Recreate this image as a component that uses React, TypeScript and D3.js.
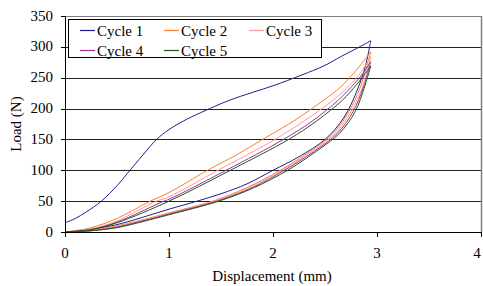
import React from "react";
import * as d3 from "d3";

const W = 483;
const H = 286;

const xTicks = [0, 1, 2, 3, 4];
const yTicks = [0, 50, 100, 150, 200, 250, 300, 350];

const cycleNames = ["Cycle 1", "Cycle 2", "Cycle 3", "Cycle 4", "Cycle 5"];
const cycleColors = ["#1f1f8f", "#ff7f2a", "#ff9a9a", "#993399", "#1d5a1d"];

const cycle1Upper: [number, number][] = [
  [0, 15], [0.1, 22], [0.2, 32], [0.35, 50], [0.5, 75], [0.6, 95], [0.75, 125],
  [0.88, 150], [1.0, 166], [1.14, 180], [1.3, 193], [1.59, 214], [2.0, 237],
  [2.27, 254], [2.5, 270], [2.65, 284], [2.8, 297], [2.94, 310],
];
const cycle1Lower: [number, number][] = [
  [0, 0], [0.25, 4], [0.5, 12], [0.75, 24], [1, 37], [1.27, 50], [1.5, 62],
  [1.75, 78], [2.0, 100], [2.25, 122], [2.5, 150], [2.68, 185], [2.81, 230],
  [2.89, 270], [2.94, 310],
];
const cycle2Upper: [number, number][] = [
  [0, 0], [0.25, 7], [0.5, 22], [0.82, 50], [1, 64], [1.37, 100], [1.65, 125],
  [1.9, 150], [2.2, 180], [2.49, 214], [2.65, 235], [2.8, 262], [2.94, 292],
];
const cycle2Lower: [number, number][] = [
  [0, 0], [0.25, 3], [0.5, 10], [0.75, 20], [1, 31], [1.42, 50], [1.75, 72],
  [2.07, 100], [2.35, 130], [2.58, 160], [2.73, 195], [2.84, 235], [2.94, 292],
];
const cycle3Upper: [number, number][] = [
  [0, 0], [0.25, 5], [0.5, 18], [0.88, 50], [1, 57], [1.47, 100], [2.02, 150],
  [2.3, 180], [2.58, 214], [2.75, 240], [2.85, 260], [2.94, 284],
];
const cycle3Lower: [number, number][] = [
  [0, 0], [0.25, 2.5], [0.5, 9], [0.75, 19], [1, 30], [1.44, 50], [1.77, 72],
  [2.09, 100], [2.37, 130], [2.6, 160], [2.75, 195], [2.86, 235], [2.94, 284],
];
const cycle4Upper: [number, number][] = [
  [0, 0], [0.25, 4], [0.5, 16], [0.95, 50], [1, 53], [1.55, 100], [2.1, 150],
  [2.38, 180], [2.63, 214], [2.78, 240], [2.87, 258], [2.94, 276],
];
const cycle4Lower: [number, number][] = [
  [0, 0], [0.25, 2], [0.5, 8], [0.75, 18], [1, 29], [1.46, 50], [1.8, 72],
  [2.11, 100], [2.39, 130], [2.62, 160], [2.77, 195], [2.87, 235], [2.94, 276],
];
const cycle5Upper: [number, number][] = [
  [0, 0], [0.25, 4], [0.5, 15], [1, 50], [1.59, 100], [2.15, 150], [2.42, 180],
  [2.67, 214], [2.8, 238], [2.88, 255], [2.94, 269],
];
const cycle5Lower: [number, number][] = [
  [0, 0], [0.25, 2], [0.5, 7], [0.75, 17], [1, 28], [1.48, 50], [1.82, 72],
  [2.14, 100], [2.41, 130], [2.64, 160], [2.79, 195], [2.88, 235], [2.94, 269],
];

const cycleUppers = [cycle1Upper, cycle2Upper, cycle3Upper, cycle4Upper, cycle5Upper];
const cycleLowers = [cycle1Lower, cycle2Lower, cycle3Lower, cycle4Lower, cycle5Lower];

export default function App() {
  const left = 65, right = 481, top = 16, bottom = 232;
  const x = d3.scaleLinear().domain([0, 4]).range([left, right]);
  const y = d3.scaleLinear().domain([0, 350]).range([bottom, top]);
  const line = d3
    .line<[number, number]>()
    .x((d) => x(d[0]))
    .y((d) => y(d[1]))
    .curve(d3.curveCatmullRom.alpha(0.5));

  const legendCols = [80, 164, 249];
  const legendRows = [30.5, 50.5];
  const fam = '"Liberation Serif"';

  return (
    <svg width={W} height={H} style={{ position: "absolute", left: 0, top: 0, background: "#fff" }}>
      <style>{`text { font-family: "Liberation Serif", serif; font-size: 15px; fill: #000; }`}</style>
      {/* gridlines */}
      {yTicks.slice(1).map((t) => (
        <line key={"g" + t} x1={left} x2={right} y1={Math.round(y(t)) + 0.5} y2={Math.round(y(t)) + 0.5}
          stroke={t === 350 ? "#808080" : "#222"} strokeWidth={1} />
      ))}
      <line x1={right + 0.5} x2={right + 0.5} y1={top} y2={bottom} stroke="#808080" strokeWidth={1.5} />

      {/* curves */}
      {cycleNames.map((n, i) => (
        <g key={n} fill="none" stroke={cycleColors[i]} strokeWidth={1}>
          <path d={line(cycleUppers[i]) || ""} />
          <path d={line(cycleLowers[i]) || ""} />
        </g>
      ))}

      {/* axes */}
      <line x1={left + 0.5} x2={left + 0.5} y1={top} y2={bottom + 4} stroke="#000" />
      <line x1={left - 4} x2={right} y1={bottom + 0.5} y2={bottom + 0.5} stroke="#000" />
      {yTicks.map((t) => (
        <g key={"y" + t}>
          <line x1={left - 4} x2={left} y1={Math.round(y(t)) + 0.5} y2={Math.round(y(t)) + 0.5} stroke="#000" />
          <text x={53} y={y(t) + 4.5} textAnchor="end" fontFamily={fam}>{t}</text>
        </g>
      ))}
      {xTicks.map((t) => (
        <g key={"x" + t}>
          <line x1={Math.round(x(t)) + 0.5} x2={Math.round(x(t)) + 0.5} y1={bottom} y2={bottom + 5} stroke="#000" />
          <text x={t === 4 ? x(t) - 4 : x(t)} y={258} textAnchor="middle" fontFamily={fam}>{t}</text>
        </g>
      ))}
      <text x={272} y={281} textAnchor="middle" fontFamily={fam}>Displacement (mm)</text>
      <text transform="translate(21,124) rotate(-90)" textAnchor="middle" fontFamily={fam}>Load (N)</text>

      {/* legend */}
      <rect x={68.5} y={19.5} width={253} height={38} fill="#fff" stroke="#000" strokeWidth={1} />
      {cycleNames.map((n, i) => {
        const cx = legendCols[i % 3];
        const cy = legendRows[Math.floor(i / 3)];
        return (
          <g key={"l" + n}>
            <line x1={cx} x2={cx + 15} y1={cy} y2={cy} stroke={cycleColors[i]} strokeWidth={1.2} />
            <text x={cx + 17} y={cy + 5} fontFamily={fam}>{n}</text>
          </g>
        );
      })}
    </svg>
  );
}
